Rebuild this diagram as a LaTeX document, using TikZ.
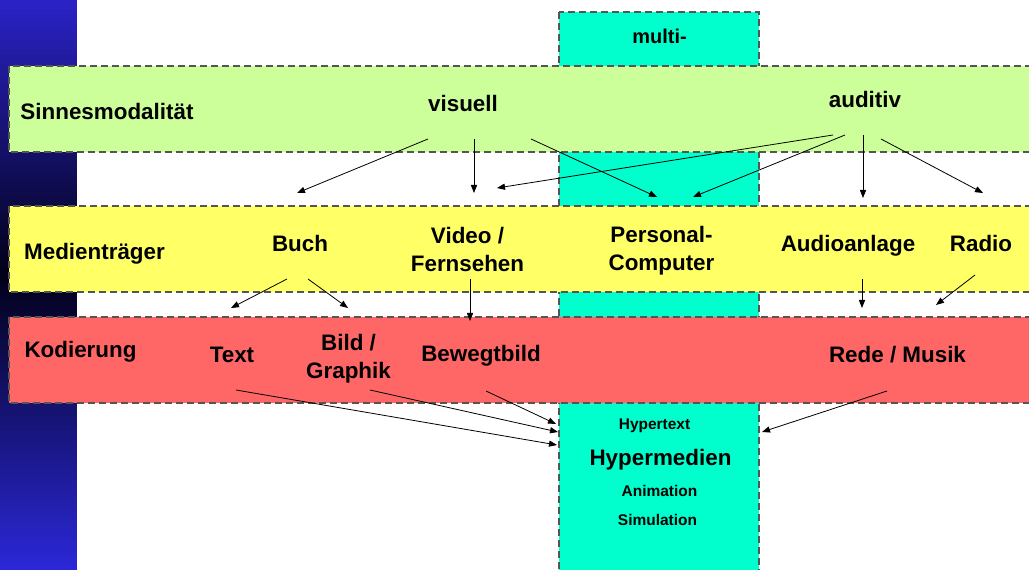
\documentclass[tikz,border=0pt]{standalone}
\usepackage{fontspec}
\setmainfont{Liberation Sans}
\usetikzlibrary{arrows.meta}

\definecolor{bandgreen}{HTML}{CCFF99}
\definecolor{bandyellow}{HTML}{FFFF66}
\definecolor{bandred}{HTML}{FF6666}
\definecolor{colcyan}{HTML}{00FFCC}
\definecolor{barblue}{HTML}{2A22C4}
\definecolor{barblue2}{HTML}{2C28DA}
\definecolor{bardark}{HTML}{020118}
\definecolor{edgegray}{HTML}{555555}

\tikzset{
  band/.style={draw=edgegray, line width=0.9pt, dash pattern=on 5.25pt off 3pt},
  lbl/.style={font=\fontsize{16.8}{21}\selectfont\bfseries, inner sep=0pt, anchor=base},
  lbltwo/.style={lbl, anchor=center, align=center},
  lblsmall/.style={font=\fontsize{11.6}{14}\selectfont\bfseries, inner sep=0pt, anchor=base},
  arr/.style={draw=black, line width=0.6pt, -{Triangle[length=6pt, width=4.6pt]}}
}

\begin{document}
\begin{tikzpicture}[x=0.75pt, y=-0.75pt]
  \useasboundingbox (0,0) rectangle (1029,570);
  \clip (0,0) rectangle (1029,570);

  % white page
  \fill[white] (0,0) rectangle (1029,570);

  % left bar: blue at the top and bottom, nearly black around y = 270
  \foreach \i in {0,...,113} {
    \pgfmathsetmacro{\ytop}{\i*5}
    \pgfmathsetmacro{\ybot}{\i*5+6}
    \ifnum \i < 54
      \pgfmathtruncatemacro{\p}{\ytop/2.7}
      \fill[bardark!\p!barblue] (0,\ytop) rectangle (77,\ybot);
    \else
      \pgfmathtruncatemacro{\p}{(\ytop-270)/3}
      \fill[barblue2!\p!bardark] (0,\ytop) rectangle (77,\ybot);
    \fi
  }

  % vertical "multi-" column behind the bands
  \filldraw[band, fill=colcyan] (559,12) rectangle (759,590);

  % horizontal bands
  \filldraw[band, fill=bandgreen]  (9,66)  rectangle (1045,152);
  \filldraw[band, fill=bandyellow] (9,206) rectangle (1045,292);
  \filldraw[band, fill=bandred]    (9,317) rectangle (1045,403);

  % labels
  \node[lbl, font=\fontsize{15}{18}\selectfont\bfseries] (multi) at (659.5,44) {multi-};

  \node[lbl] (sinne) at (107,120) {Sinnesmodalität};
  \node[lbl] (visuell) at (463,112) {visuell};
  \node[lbl] (auditiv) at (865,108) {auditiv};

  \node[lbl] (medien) at (94.5,260) {Medienträger};
  \node[lbl] (buch) at (300,252) {Buch};
  \node[lbltwo] (video) at (467.5,249) {Video /\\Fernsehen};
  \node[lbltwo] (pc) at (661.5,251) {Personal-\\Computer};
  \node[lbl] (audio) at (848,252) {Audioanlage};
  \node[lbl] (radio) at (981,252) {Radio};

  \node[lbl] (kod) at (80.5,358) {Kodierung};
  \node[lbl] (text) at (232,363) {Text};
  \node[lbltwo] (bild) at (348.5,359) {Bild /\\Graphik};
  \node[lbl] (bewegt) at (481,362) {Bewegtbild};
  \node[lbl] (rede) at (897.5,363) {Rede / Musik};

  \node[lblsmall] (hypertext) at (654.5,430) {Hypertext};
  \node[lbl] (hypermedien) at (660.5,465) {Hypermedien};
  \node[lblsmall] (animation) at (659.5,496) {Animation};
  \node[lblsmall] (simulation) at (657.5,525) {Simulation};

  % arrow end points
  \coordinate (v1) at (428,139);  \coordinate (vbuch) at (297,193);
  \coordinate (v2) at (474,139);  \coordinate (vvideo) at (474,193);
  \coordinate (v3) at (531,139);  \coordinate (vpc) at (657,197);
  \coordinate (a1) at (833,135);  \coordinate (avideo) at (497,188);
  \coordinate (a2) at (845,135);  \coordinate (apc) at (693,197);
  \coordinate (a3) at (863,135);  \coordinate (aaudio) at (863,198);
  \coordinate (a4) at (881,139);  \coordinate (aradio) at (983,193);

  \coordinate (b1) at (287,279);  \coordinate (btext) at (231,308);
  \coordinate (b2) at (308,279);  \coordinate (bbild) at (348,308);
  \coordinate (f1) at (470,279);  \coordinate (fbewegt) at (470,321);
  \coordinate (u1) at (862,279);  \coordinate (urede) at (862,308);
  \coordinate (r1) at (975,275);  \coordinate (rrede) at (936,305);

  \coordinate (t1) at (236,390);  \coordinate (thyp) at (557,445);
  \coordinate (g1) at (370,390);  \coordinate (ghyp) at (558,432);
  \coordinate (w1) at (486,391);  \coordinate (whyp) at (556,424);
  \coordinate (m1) at (887,391);  \coordinate (mhyp) at (762,432);

  % Sinnesmodalitaet -> Medientraeger
  \draw[arr] (v1) -- (vbuch);
  \draw[arr] (v2) -- (vvideo);
  \draw[arr] (v3) -- (vpc);
  \draw[arr] (a1) -- (avideo);
  \draw[arr] (a2) -- (apc);
  \draw[arr] (a3) -- (aaudio);
  \draw[arr] (a4) -- (aradio);

  % Medientraeger -> Kodierung
  \draw[arr] (b1) -- (btext);
  \draw[arr] (b2) -- (bbild);
  \draw[arr] (f1) -- (fbewegt);
  \draw[arr] (u1) -- (urede);
  \draw[arr] (r1) -- (rrede);

  % Kodierung -> Hypermedien
  \draw[arr] (t1) -- (thyp);
  \draw[arr] (g1) -- (ghyp);
  \draw[arr] (w1) -- (whyp);
  \draw[arr] (m1) -- (mhyp);
\end{tikzpicture}
\end{document}
